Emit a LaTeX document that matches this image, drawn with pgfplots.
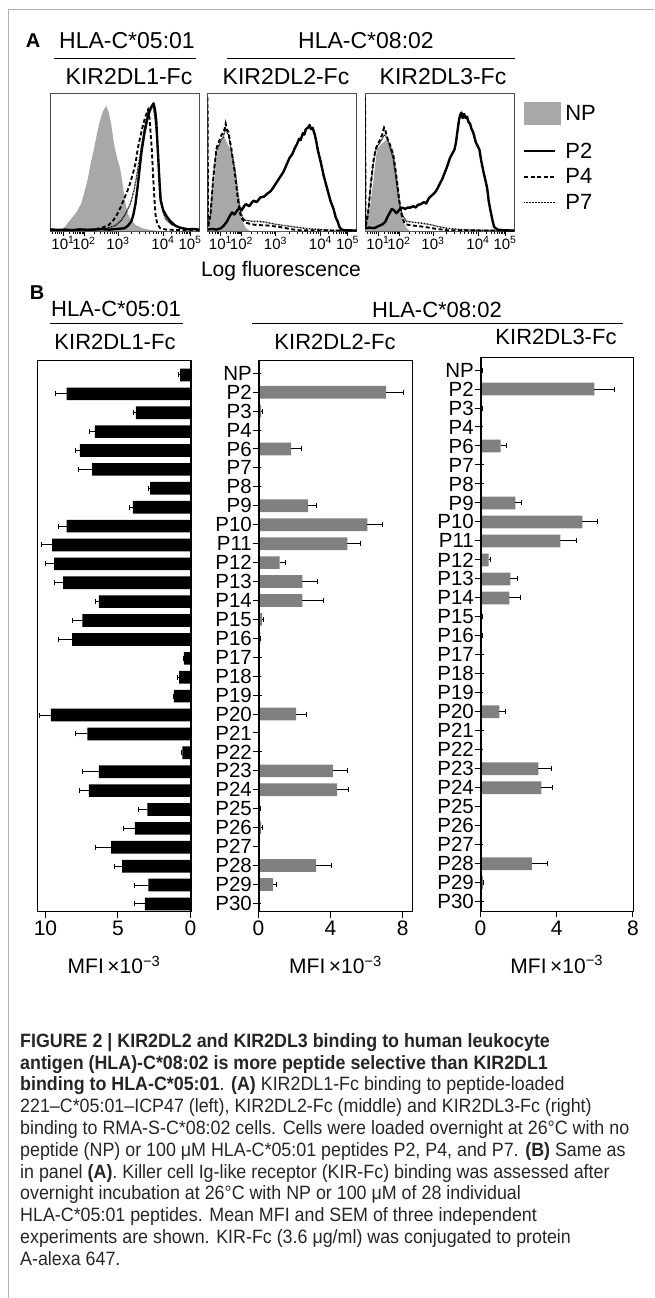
\documentclass[border=0pt]{standalone}
\usepackage{fontspec}
\setmainfont{Liberation Sans}
\newfontfamily\capfont{Liberation Sans}[FakeStretch=0.925]
\usepackage{pgfplots}
\usepackage{pgfplotstable}
\pgfplotsset{compat=1.18}

\definecolor{npgray}{HTML}{A8A8A8}
\definecolor{bargray}{HTML}{808080}

% MFI x 10^-3, mean and SEM (plus side only)
\pgfplotstableread{
idx name dl1 dl1e dl2 dl2e dl3 dl3e
0 NP 0.72 0.12 0.02 0.00 0.07 0.03
1 P2 8.54 0.76 7.09 0.97 5.97 1.05
2 P3 3.76 0.14 0.15 0.05 0.07 0.03
3 P4 6.59 0.34 0.02 0.00 0.01 0.00
4 P6 7.62 0.30 1.81 0.58 1.05 0.33
5 P7 6.79 0.90 0.02 0.00 0.03 0.00
6 P8 2.79 0.09 0.02 0.00 0.03 0.00
7 P9 3.97 0.25 2.76 0.44 1.83 0.32
8 P10 8.54 0.53 6.04 0.87 5.34 0.82
9 P11 9.55 0.75 4.93 0.74 4.19 0.85
10 P12 9.41 0.62 1.17 0.35 0.42 0.10
11 P13 8.79 0.62 2.43 0.87 1.57 0.35
12 P14 6.31 0.23 2.43 1.20 1.52 0.57
13 P15 7.46 0.66 0.20 0.10 0.07 0.02
14 P16 8.17 0.93 0.10 0.03 0.06 0.02
15 P17 0.45 0.05 0.03 0.00 0.03 0.00
16 P18 0.79 0.11 0.02 0.00 0.03 0.00
17 P19 1.14 0.06 0.03 0.00 0.02 0.00
18 P20 9.62 0.76 2.09 0.56 0.99 0.32
19 P21 7.11 0.79 0.05 0.02 0.03 0.00
20 P22 0.56 0.07 0.04 0.00 0.02 0.00
21 P23 6.31 1.13 4.13 0.80 3.04 0.69
22 P24 7.00 0.67 4.37 0.65 3.19 0.60
23 P25 2.98 0.62 0.07 0.02 0.05 0.01
24 P26 3.83 0.76 0.15 0.09 0.05 0.01
25 P27 5.48 1.09 0.05 0.01 0.02 0.00
26 P28 4.72 0.53 3.20 0.83 2.70 0.82
27 P29 2.91 0.97 0.80 0.20 0.12 0.02
28 P30 3.14 0.74 0.01 0.00 0.03 0.00
}\bars

\pgfplotsset{
  hist/.style={scale only axis, anchor=north west, width=149pt, height=137.7pt,
    xmin=0, xmax=100, ymin=0, ymax=100, ytick=\empty,
    xtick={8.7,22.8,45.6,75.8,94},
    xticklabels={{10\textsuperscript{1}},{10\textsuperscript{2}},{10\textsuperscript{3}},{10\textsuperscript{4}},{10\textsuperscript{5}}},
    minor xtick={1.5,3.5,5.2,6.5,7.6,12.9,15.4,17.2,18.6,19.7,20.6,21.4,22.2,29.7,33.7,36.5,38.7,40.5,42.1,43.4,44.6,54.7,60.0,63.8,66.7,69.1,71.1,72.9,74.4,81.3,84.5,86.8,88.5,90.0,91.2,92.2,93.2},
    xtick pos=bottom, tick align=outside, major tick length=4.5pt, minor tick length=2.5pt,
    axis line style={black!70, line width=0.7pt}, tick style={black, line width=0.7pt},
    tick label style={font=\fontsize{15}{15}\selectfont, inner sep=1pt}},
  np/.style={draw=none, fill=npgray},
  ptwo/.style={black, line width=2.4pt, line join=round},
  pfour/.style={black, line width=1.9pt, dash pattern=on 4pt off 2.5pt},
  pseven/.style={black, line width=1.3pt, dash pattern=on 0.8pt off 0.7pt},
  npleg/.style={legend image code/.code={\fill[npgray] (0pt,-11.5pt) rectangle (37pt,11.5pt); \path (0pt,-21pt) (40pt,0pt);}},
  lineleg/.style={legend image code/.code={\draw[##1] (0pt,0pt) -- (31pt,0pt);}},
  barax/.style={scale only axis, anchor=north west, y dir=reverse, xmin=0,
    tick align=outside, major tick length=6pt, xtick pos=bottom, ytick pos=left,
    axis line style={line width=0.9pt}, tick style={black, line width=1pt},
    /pgf/number format/assume math mode=true,
    tick label style={font=\fontsize{21}{21}\selectfont},
    yticklabel style={font=\fontsize{20.5}{20.5}\selectfont, inner sep=0.5pt},
    xlabel={MFI\,×10\textsuperscript{−3}},
    xlabel style={font=\fontsize{21}{21}\selectfont, at={(axis description cs:0.5,-0.0966)}, anchor=center},
    clip=false},
  brs/.style={xbar, bar width=0.67, draw=none, fill=#1,
    error bars/.cd, x dir=plus, x explicit,
    error bar style={line width=1pt, black},
    error mark options={rotate=90, line width=1pt, mark size=2.5pt, black}},
}

\begin{document}
\begin{tikzpicture}
\useasboundingbox (0pt,0pt) rectangle (654pt,-1298pt);
\draw[black!30, line width=1pt] (8pt,-1298pt) -- (8pt,-10pt) -- (654pt,-10pt);

% ---------------- panel A
\node[font=\bfseries\fontsize{20}{20}\selectfont] at (33pt,-41pt) {A};
\node[font=\fontsize{23}{23}\selectfont] at (127pt,-41pt) {HLA-C*05:01};
\node[font=\fontsize{23}{23}\selectfont] at (366pt,-41pt) {HLA-C*08:02};
\draw[line width=1pt] (54pt,-59pt) -- (196pt,-59pt);
\draw[line width=1pt] (227pt,-59pt) -- (515pt,-59pt);
\node[font=\fontsize{23}{23}\selectfont] at (129pt,-77pt) {KIR2DL1-Fc};
\node[font=\fontsize{23}{23}\selectfont] at (286pt,-77pt) {KIR2DL2-Fc};
\node[font=\fontsize{23}{23}\selectfont] at (443pt,-77pt) {KIR2DL3-Fc};

\begin{axis}[hist, at={(50pt,-93.3pt)}]
\addplot[np] coordinates {(0,0) (5,0.3) (8.4,0.8) (12.6,6.8) (15.4,10.4) (18,14) (21,20) (23,28) (25.2,37) (27.5,50) (29.4,59) (31.4,70) (33.5,80) (35.5,87) (37.8,91) (39.5,86) (41,78) (43,63) (45,53) (47,46) (48.5,36) (50,24) (52,13) (54.5,8) (57.4,4.4) (62,2) (66,1) (73,0) (100,0)} \closedcycle;
\addplot[pseven] coordinates {(0,0.5) (15,0.6) (30,1) (38,1.8) (44,4) (48,8) (51,13) (54,20) (56.5,30) (58.5,42) (60,52) (61.5,62) (63.5,75) (65.5,84) (67.5,90) (69,91) (70.5,82) (71.5,70) (72.5,55) (73.5,38) (74.5,24) (76,13) (78,8) (81,5) (85,3) (90,1.5) (100,0.8)};
\addplot[pfour] coordinates {(0,0.6) (10,0.5) (20,0.8) (30,1.2) (35,2.5) (39,4) (42,7) (44.5,11) (47.6,17.7) (50,24) (53,32) (55.5,41) (57.4,49) (58.8,59) (60.5,68) (62,75) (64,83) (65.8,88) (66.8,82) (67.6,70) (68.4,58) (69.2,40) (70,25) (70.8,12) (72,5) (74,2) (78,1) (90,0.6) (100,0.5)};
\addplot[ptwo] coordinates {(0,1.2) (5,0.8) (10,1) (15,0.6) (20,1.2) (25,0.8) (30,1) (35,1.3) (40,1) (45,1.5) (50,2) (52.5,4) (54.6,7) (56,12) (57.4,20) (58.8,32) (60,44) (61.6,59) (63.5,72) (65,80) (66.5,86) (68,90) (69.5,92.7) (70.5,88) (71.3,80) (72,66) (72.8,50) (73.5,35) (74.2,22.5) (76,15) (78.4,10.4) (81,6.8) (84,4) (87,2.5) (89.6,1.9) (93,1.2) (96,1.5) (100,1)};
\end{axis}

\begin{axis}[hist, at={(207.5pt,-93.3pt)}]
\addplot[np] coordinates {(0,0) (1,4) (2.5,15) (4,30) (4.8,39) (6.2,55) (8,64) (10,67) (11.4,68.5) (13,64) (15,60) (17,55) (18.8,39) (20.5,25) (21.6,18) (23,7.6) (25.8,2) (28.6,0) (100,0)} \closedcycle;
\addplot[pseven] coordinates {(0,97) (0.4,3) (2,12) (4,40) (6,58) (8,63) (9,66) (10.5,68) (12,74) (13,72) (14,70) (15,64) (16,58) (17.5,50) (19,40) (20.5,27) (22,15) (23.5,10) (25,8) (27,7.5) (30,7) (34,7) (38,6.5) (42,5.8) (45,5) (50,4.2) (55,3.5) (60,2.7) (65,2) (70,1.5) (75,1.2) (80,0.8) (85,0.5) (100,0.3)};
\addplot[pfour] coordinates {(0,97) (0.4,3) (2,12) (4,40) (6,60) (8,66) (9.5,70) (11,72) (12.2,78) (13,74) (14,72) (15,66) (16,60) (17,52) (18,45) (19.3,33) (20.5,22) (21.5,14) (23,9) (24.5,7) (26,6) (29,5) (32,4.5) (36,4.2) (40,4) (44,3.5) (48,3) (52,2.2) (55,1.5) (58,1) (62,0.5) (100,0.3)};
\addplot[ptwo] coordinates {(0,1) (3,1.5) (6,1) (9,2) (11,4) (13,6.8) (15,11) (16.5,13.5) (18,12) (20,15) (21.6,17) (23,15) (24.5,18) (25.8,19.5) (28,18) (30,21) (31,22) (33,21) (35.6,24.5) (38,25) (40,27) (42.5,29) (45,33) (48,38) (51,43) (53,48) (55,53) (57,56) (58.5,60) (60,63) (61.5,67) (62.5,66) (64,71) (65,70) (66,74) (67.5,75) (68.5,77) (69.5,74) (70.5,75) (72,70) (73,65) (74,59) (76,50) (78,40) (80,32) (82.5,22) (84.6,16) (86,10) (87.4,6.8) (88.5,3) (90,1) (93,0.5) (100,0.3)};
\end{axis}

\begin{axis}[hist, at={(365pt,-93.3pt)},
  legend style={at={(axis description cs:1.06,0.937)}, anchor=north west, draw=none, fill=none,
    font=\fontsize{22}{22}\selectfont, inner sep=0pt, row sep=7pt, nodes={inner sep=1pt}},
  legend cell align=left]
\addplot[np, npleg] coordinates {(0,0) (1,4) (3,15) (5.5,35) (7,50) (8,59) (10,62) (11,63) (13,65) (15,66) (16,63) (17,62) (19,59) (20,52) (21,45) (22,36) (23,28) (24.5,15) (26,6) (28,2) (30,0) (100,0)} \closedcycle;
\addlegendentry{NP}
\addplot[ptwo, lineleg] coordinates {(0,2) (3,2.5) (6,2) (8,3) (10,4) (12,5) (13.7,6.8) (15,10) (16.5,13) (18,16) (19.5,15) (21,13) (22,14) (23.5,16) (25,17) (27,16) (28.5,17) (30.5,17) (32.5,18) (34,17) (35.5,19) (37.5,19.5) (39.5,21) (41,20) (43,24) (45,26) (47,28) (48.7,31) (50.5,35) (52,38) (53,41) (54.5,45) (55.5,48) (57,53) (58.5,56) (60,59) (61,64) (62,72) (63,80) (63.8,84) (64.7,86) (65.5,82) (66.5,85) (67.5,82) (68.5,83) (69.5,79) (70.5,78) (71.5,74) (72.5,72) (73.5,68) (74.5,64) (75.5,62) (76.8,59) (78,51) (79.5,43) (81,36) (82,31) (83,22) (84,16) (85.3,9) (86.6,3) (89,1) (93,0.5) (100,0.3)};
\addlegendentry{P2}
\addplot[pfour, lineleg] coordinates {(0,97) (0.4,3) (2,12) (4,35) (5.5,50) (7,59) (8.5,63) (10,66) (11.5,70) (12.8,75) (13.7,73) (14.5,69) (15.5,66) (17,62) (18,58) (19,55) (20,48) (21,40) (22,31) (23,22) (24,15) (25,10) (26,7) (27,5) (29,4.5) (32,4) (36,3.5) (40,3) (44,2.2) (48,1.5) (52,1) (55,0.5) (100,0.3)};
\addlegendentry{P4}
\addplot[pseven, lineleg] coordinates {(0,97) (0.4,3) (2,12) (4,35) (5.5,48) (7,58) (8.5,62) (10,64) (11.5,67) (13,70) (14,69) (15,66) (16,64) (17.5,58) (19,52) (20.5,40) (22,28) (23.5,18) (25,12) (26.5,9) (28,7) (31,6.5) (35,6) (38,5.7) (42,5) (45,4.3) (48,3.5) (51,2.8) (55,2) (60,1.5) (65,1) (75,0.6) (100,0.3)};
\addlegendentry{P7}
\end{axis}

\node[font=\fontsize{21}{21}\selectfont] at (281pt,-271pt) {Log fluorescence};

% ---------------- panel B
\node[font=\bfseries\fontsize{20}{20}\selectfont] at (37pt,-293pt) {B};
\node[font=\fontsize{22}{22}\selectfont] at (116pt,-309pt) {HLA-C*05:01};
\draw[line width=1pt] (50pt,-323pt) -- (183pt,-323pt);
\node[font=\fontsize{22}{22}\selectfont] at (115pt,-342pt) {KIR2DL1-Fc};
\node[font=\fontsize{22}{22}\selectfont] at (437pt,-310pt) {HLA-C*08:02};
\draw[line width=1pt] (252pt,-323pt) -- (623pt,-323pt);
\node[font=\fontsize{22}{22}\selectfont] at (335pt,-342pt) {KIR2DL2-Fc};
\node[font=\fontsize{22}{22}\selectfont] at (556pt,-337pt) {KIR2DL3-Fc};

\begin{axis}[barax, at={(37.5pt,-360pt)}, width=153pt, height=551.7pt,
  x dir=reverse, xmax=10.55, ymin=-0.79, ymax=28.41, xtick={0,5,10}, ytick=\empty]
\addplot[brs=black] table[x=dl1, y=idx, x error=dl1e] {\bars};
\draw[line width=2pt] (axis cs:0,-0.79) -- (axis cs:0,28.41);
\end{axis}

\begin{axis}[barax, at={(258.5pt,-360pt)}, width=154pt, height=551.7pt,
  xmax=8.55, ymin=-0.7, ymax=28.44, xtick={0,4,8},
  ytick={0,1,...,28}, yticklabels from table={\bars}{name}]
\addplot[brs=bargray] table[x=dl2, y=idx, x error=dl2e] {\bars};
\draw[line width=2pt] (axis cs:0,-0.7) -- (axis cs:0,28.44);
\end{axis}

\begin{axis}[barax, at={(480.5pt,-357.3pt)}, width=152.5pt, height=553.7pt,
  xmax=8, ymin=-0.67, ymax=28.49, xtick={0,4,8},
  ytick={0,1,...,28}, yticklabels from table={\bars}{name}]
\addplot[brs=bargray] table[x=dl3, y=idx, x error=dl3e] {\bars};
\draw[line width=2pt] (axis cs:0,-0.67) -- (axis cs:0,28.49);
\end{axis}

% ---------------- caption
\node[anchor=north west, inner sep=0pt, align=left, text=black!85,
  font=\capfont\fontsize{19.3}{21.8}\selectfont] at (20pt,-1033pt) {%
\textbf{FIGURE 2 | KIR2DL2 and KIR2DL3 binding to human leukocyte}\\
\textbf{antigen (HLA)-C*08:02 is more peptide selective than KIR2DL1}\\
\textbf{binding to HLA-C*05:01}. \textbf{(A)} KIR2DL1-Fc binding to peptide-loaded\\
221–C*05:01–ICP47 (left), KIR2DL2-Fc (middle) and KIR2DL3-Fc (right)\\
binding to RMA-S-C*08:02 cells. Cells were loaded overnight at 26°C with no\\
peptide (NP) or 100 μM HLA-C*05:01 peptides P2, P4, and P7. \textbf{(B)} Same as\\
in panel \textbf{(A)}. Killer cell Ig-like receptor (KIR-Fc) binding was assessed after\\
overnight incubation at 26°C with NP or 100 μM of 28 individual\\
HLA-C*05:01 peptides. Mean MFI and SEM of three independent\\
experiments are shown. KIR-Fc (3.6 μg/ml) was conjugated to protein\\
A-alexa 647.};
\end{tikzpicture}
\end{document}
